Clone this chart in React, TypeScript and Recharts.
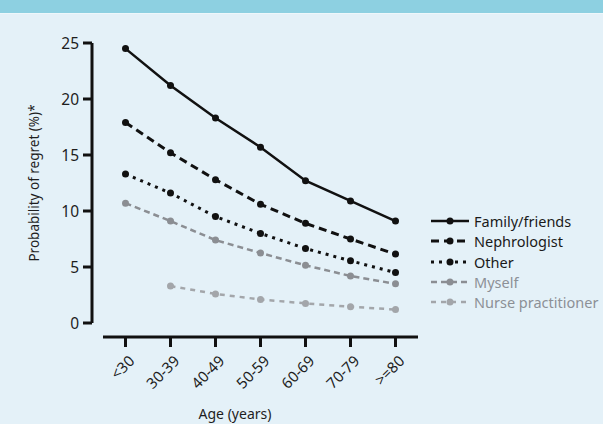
import { Legend, Line, LineChart, XAxis, YAxis } from "recharts";

const ageGroups = ["<30", "30-39", "40-49", "50-59", "60-69", "70-79", ">=80"];
const familyFriends = [24.5, 21.2, 18.3, 15.7, 12.7, 10.9, 9.1];
const nephrologist = [17.9, 15.2, 12.8, 10.6, 8.9, 7.5, 6.15];
const other = [13.3, 11.6, 9.5, 8.0, 6.65, 5.55, 4.5];
const myself = [10.7, 9.1, 7.4, 6.25, 5.15, 4.2, 3.5];
const nursePractitioner = [null, 3.3, 2.6, 2.1, 1.75, 1.45, 1.2];
const yTicks = [0, 5, 10, 15, 20, 25];

const series = [
  { key: "family", name: "Family/friends", color: "#111111", text: "#1a1a1a", width: 2.5, dash: undefined },
  { key: "nephro", name: "Nephrologist", color: "#111111", text: "#1a1a1a", width: 3, dash: "8 5" },
  { key: "other", name: "Other", color: "#111111", text: "#1a1a1a", width: 3, dash: "3 5" },
  { key: "myself", name: "Myself", color: "#8b8e93", text: "#8c9096", width: 2.5, dash: "6 4" },
  { key: "nurse", name: "Nurse practitioner", color: "#a3a6aa", text: "#8c9096", width: 2.5, dash: "5 5" },
];

const data = ageGroups.map((age, i) => ({
  age,
  family: familyFriends[i],
  nephro: nephrologist[i],
  other: other[i],
  myself: myself[i],
  nurse: nursePractitioner[i],
}));

const FONT = "'Noto Sans', sans-serif";

function AgeTick({ x, y, payload }: any) {
  return (
    <text
      x={0}
      y={0}
      transform={`translate(${x + 10},${y + 27}) rotate(-45)`}
      textAnchor="end"
      fontSize={15}
      fontFamily={FONT}
      fill="#1e1e1e"
    >
      {payload.value}
    </text>
  );
}

function LegendBox() {
  return (
    <div style={{ fontFamily: FONT, fontSize: 14.5 }}>
      {series.map((s) => (
        <div key={s.key} style={{ display: "flex", alignItems: "center", height: 20.3 }}>
          <svg width={44} height={14} style={{ flex: "none" }}>
            <line x1={1} x2={39} y1={7} y2={7} stroke={s.color} strokeWidth={s.width} strokeDasharray={s.dash} />
            <circle cx={20} cy={7} r={3.5} fill={s.color} />
          </svg>
          <span style={{ color: s.text, lineHeight: "20px" }}>{s.name}</span>
        </div>
      ))}
    </div>
  );
}

export default function App() {
  return (
    <div style={{ position: "absolute", left: 0, top: 0, width: 603, height: 424, background: "#e4f1f8", overflow: "hidden" }}>
      <div style={{ height: 13, background: "#8dd0e1", borderBottom: "1.5px solid #eef7fb" }} />
      <div style={{ position: "absolute", left: 0, top: 0 }}>
        <LineChart width={603} height={424} data={data} margin={{ top: 43, right: 185, bottom: 11, left: 43 }}>
          <XAxis
            dataKey="age"
            padding={{ left: 22.5, right: 22.5 }}
            height={90}
            interval={0}
            tickSize={10}
            axisLine={{ stroke: "#111", strokeWidth: 3, transform: "translate(0,14)" }}
            tickLine={{ stroke: "#111", strokeWidth: 3, transform: "translate(0,14)" }}
            tick={<AgeTick />}
            label={({ viewBox }: any) => (
              <text x={viewBox.x + 132} y={viewBox.y + 96} textAnchor="middle" fontSize={14} fontFamily={FONT} fill="#1e1e1e">
                Age (years)
              </text>
            )}
          />
          <YAxis
            width={60}
            domain={[0, 25]}
            ticks={yTicks}
            tickSize={9}
            tickMargin={15}
            axisLine={{ stroke: "#111", strokeWidth: 3, transform: "translate(-11,0)" }}
            tickLine={{ stroke: "#111", strokeWidth: 3, transform: "translate(-11,0)" }}
            tick={{ fontSize: 15.5, fontFamily: FONT, fill: "#1e1e1e" }}
            label={({ viewBox }: any) => (
              <text
                x={0}
                y={0}
                transform={`translate(${viewBox.x - 4},${viewBox.y + viewBox.height / 2}) rotate(-90)`}
                textAnchor="middle"
                fontSize={13.5}
                fontFamily={FONT}
                fill="#1e1e1e"
              >
                Probability of regret (%)*
              </text>
            )}
          />
          {series.map((s) => (
            <Line
              key={s.key}
              dataKey={s.key}
              name={s.name}
              type="linear"
              stroke={s.color}
              strokeWidth={s.width}
              strokeDasharray={s.dash}
              dot={{ r: 3.5, fill: s.color, stroke: "none" }}
              activeDot={false}
              isAnimationActive={false}
            />
          ))}
          <Legend
            layout="vertical"
            align="center"
            verticalAlign="middle"
            wrapperStyle={{ left: 430, top: 211, width: 175 }}
            content={() => <LegendBox />}
          />
        </LineChart>
      </div>
    </div>
  );
}
